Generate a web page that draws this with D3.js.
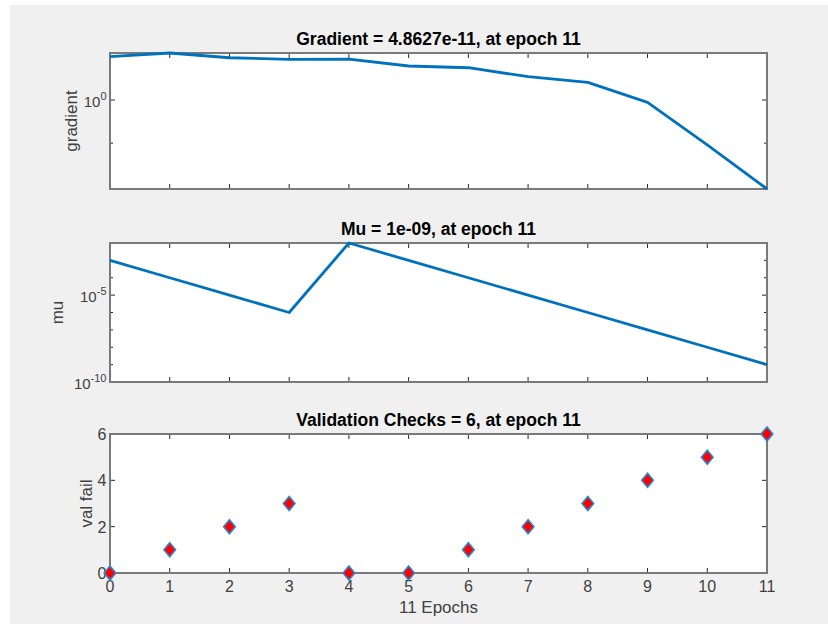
<!DOCTYPE html>
<html>

<head>
    <meta charset="UTF-8">
    <style>
        body { margin: 0; background: #fff; }
        svg { display: block; font-family: "Liberation Sans", Arial, sans-serif; }
    </style>
</head>

<body>
    <svg></svg>
    <script src="https://d3js.org/d3.v7.min.js"></script>

    <script>
        const width = 828, height = 624;

        // training record
        const epochs = [0, 1, 2, 3, 4, 5, 6, 7, 8, 9, 10, 11];
        const gradient = [1.05e5, 2.8e5, 7.9e4, 5.2e4, 5.6e4, 8.7e3, 5.5e3, 5.0e2, 1.12e2, 0.54, 6.2e-6, 4.8627e-11];
        const mu = [1e-3, 1e-4, 1e-5, 1e-6, 1e-2, 1e-3, 1e-4, 1e-5, 1e-6, 1e-7, 1e-8, 1e-9];
        const valFail = [0, 1, 2, 3, 0, 0, 1, 2, 3, 4, 5, 6];

        const titles = ["Gradient = 4.8627e-11, at epoch 11", "Mu = 1e-09, at epoch 11", "Validation Checks = 6, at epoch 11"];
        const yLabels = ["gradient", "mu", "val fail"];
        const xLabel = "11 Epochs";

        const left = 110, right = 767;
        const panels = [
            { top: 53, bottom: 189 },
            { top: 243, bottom: 382 },
            { top: 434, bottom: 573 }
        ];

        const blue = "#0072BD";
        const boxColor = "#7a7a7a";
        const tickColor = "#262626";
        const labelColor = "#404040";

        let svg = d3.select("svg")
            .attr("width", width)
            .attr("height", height);

        // figure background
        svg.append("rect")
            .attr("x", 10).attr("y", 5)
            .attr("width", width - 10).attr("height", height - 5)
            .attr("fill", "#f0f0f0");

        const x = d3.scaleLinear().domain([0, 11]).range([left, right]);

        // one y scale per panel
        const yGrad = d3.scaleLog().domain(d3.extent(gradient)).range([panels[0].bottom, panels[0].top]);
        const yMu = d3.scaleLog().domain([1e-10, 1e-2]).range([panels[1].bottom, panels[1].top]);
        const yVal = d3.scaleLinear().domain([0, 6]).range([panels[2].bottom, panels[2].top]);

        function drawFrame(p, i) {
            let g = svg.append("g");
            g.append("rect")
                .attr("x", left).attr("y", p.top)
                .attr("width", right - left).attr("height", p.bottom - p.top)
                .attr("fill", "#fff");

            // x ticks on top and bottom, pointing inside
            g.selectAll(".xt")
                .data(epochs)
                .enter()
                .append("path")
                .attr("d", d => "M" + x(d) + "," + p.bottom + "v-5M" + x(d) + "," + p.top + "v5")
                .attr("stroke", tickColor)
                .attr("stroke-width", 1);

            // title
            svg.append("text")
                .attr("x", (left + right) / 2)
                .attr("y", p.top - 8)
                .attr("text-anchor", "middle")
                .attr("font-size", "17.5px")
                .attr("font-weight", "bold")
                .attr("fill", "#000")
                .text(titles[i]);
            return g;
        }

        function yTicks(g, scale, values, len) {
            g.selectAll(null)
                .data(values)
                .enter()
                .append("path")
                .attr("d", d => "M" + left + "," + scale(d) + "h" + len + "M" + right + "," + scale(d) + "h-" + len)
                .attr("stroke", tickColor)
                .attr("stroke-width", 1);
        }

        function powLabel(g, y, exp) {
            let t = g.append("text")
                .attr("x", 106.5)
                .attr("y", y + 7)
                .attr("text-anchor", "end")
                .attr("fill", labelColor)
                .attr("font-size", "15px");
            t.append("tspan").text("10");
            t.append("tspan").attr("dy", -7).attr("font-size", "11px").text(exp);
        }

        function drawBox(p) {
            svg.append("rect")
                .attr("x", left).attr("y", p.top)
                .attr("width", right - left).attr("height", p.bottom - p.top)
                .attr("fill", "none")
                .attr("stroke", boxColor)
                .attr("stroke-width", 2);
        }

        function yTitle(text, xpos, p) {
            svg.append("text")
                .attr("transform", "translate(" + xpos + "," + (p.top + p.bottom) / 2 + ") rotate(-90)")
                .attr("text-anchor", "middle")
                .attr("font-size", "17px")
                .attr("fill", labelColor)
                .text(text);
        }

        // ---- gradient panel
        let g0 = drawFrame(panels[0], 0);
        yTicks(g0, yGrad, [1], 5);
        yTicks(g0, yGrad, [1e-5], 3);
        powLabel(g0, yGrad(1), "0");
        yTitle(yLabels[0], 77, panels[0]);

        // ---- mu panel
        let g1 = drawFrame(panels[1], 1);
        yTicks(g1, yMu, [1e-5, 1e-10], 5);
        yTicks(g1, yMu, [1e-3, 1e-4, 1e-6, 1e-7, 1e-8, 1e-9], 3);
        powLabel(g1, yMu(1e-5), "-5");
        powLabel(g1, yMu(1e-10), "-10");
        yTitle(yLabels[1], 63, panels[1]);

        // ---- validation panel
        let g2 = drawFrame(panels[2], 2);
        yTicks(g2, yVal, [0, 2, 4, 6], 5);
        g2.selectAll(".yl")
            .data([0, 2, 4, 6])
            .enter()
            .append("text")
            .attr("x", 106.5)
            .attr("y", d => yVal(d) + 6)
            .attr("text-anchor", "end")
            .attr("font-size", "16px")
            .attr("fill", labelColor)
            .text(d => d);
        g2.selectAll(".xl")
            .data(epochs)
            .enter()
            .append("text")
            .attr("x", d => x(d))
            .attr("y", 592)
            .attr("text-anchor", "middle")
            .attr("font-size", "16px")
            .attr("fill", labelColor)
            .text(d => d);
        yTitle(yLabels[2], 92, panels[2]);

        svg.append("text")
            .attr("x", (left + right) / 2)
            .attr("y", 613)
            .attr("text-anchor", "middle")
            .attr("font-size", "17px")
            .attr("fill", labelColor)
            .text(xLabel);

        panels.forEach(drawBox);

        // lines
        svg.append("path")
            .datum(epochs)
            .attr("d", d3.line().x(d => x(d)).y(d => yGrad(gradient[d])))
            .attr("fill", "none")
            .attr("stroke", blue)
            .attr("stroke-width", 2.8)
            .attr("stroke-linejoin", "round");

        svg.append("path")
            .datum(epochs)
            .attr("d", d3.line().x(d => x(d)).y(d => yMu(mu[d])))
            .attr("fill", "none")
            .attr("stroke", blue)
            .attr("stroke-width", 2.8)
            .attr("stroke-linejoin", "round");

        // diamonds
        const diamond = "M0,-7L5.8,0L0,7L-5.8,0Z";
        svg.append("g")
            .selectAll("path")
            .data(epochs)
            .enter()
            .append("path")
            .attr("transform", d => "translate(" + x(d) + "," + yVal(valFail[d]) + ")")
            .attr("d", diamond)
            .attr("fill", "#ff0000")
            .attr("stroke", "#2a86cf")
            .attr("stroke-width", 1.6);
    </script>

</body>

</html>
